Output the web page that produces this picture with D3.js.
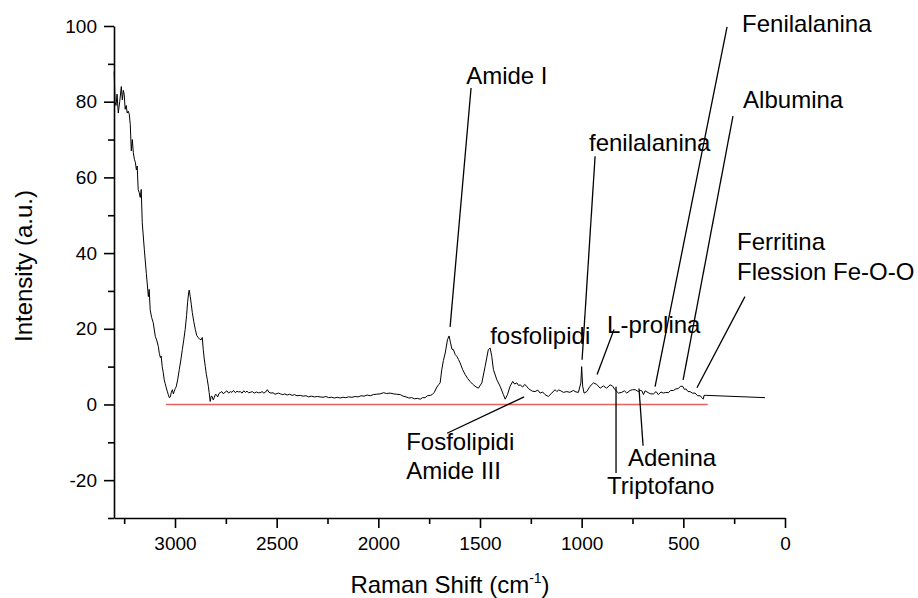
<!DOCTYPE html>
<html>
<head>
<meta charset="utf-8">
<script src="https://cdn.jsdelivr.net/npm/d3@7"></script>
<style>
  html, body { margin: 0; padding: 0; background: #fff; }
  svg { display: block; font-family: "Liberation Sans", Arial, sans-serif; }
</style>
</head>
<body>
<div id="chart"></div>
<script>
// Raman spectrum, values (shift in cm-1, intensity in a.u.)
const ramanShift = [
  3299, 3295, 3290, 3285, 3279, 3272, 3264, 3259, 3254, 3250, 3245, 3240, 3235, 3230, 3225, 3220,
  3215, 3210, 3205, 3200, 3195, 3190, 3186, 3181, 3176, 3171, 3166, 3161, 3151, 3141, 3131, 3127,
  3122, 3115, 3107, 3097, 3090, 3082, 3077, 3072, 3068, 3063, 3058, 3053, 3048, 3043, 3038, 3033,
  3028, 3023, 3018, 3013, 3008, 3004, 2999, 2994, 2987, 2979, 2972, 2964, 2957, 2950, 2943, 2938,
  2933, 2930, 2925, 2920, 2915, 2908, 2900, 2893, 2886, 2878, 2871, 2866, 2861, 2856, 2851, 2846,
  2841, 2836, 2832, 2827, 2822, 2817, 2812, 2807, 2802, 2797, 2790, 2784, 2778, 2770, 2762, 2753,
  2745, 2736, 2728, 2720, 2712, 2703, 2695, 2687, 2679, 2670, 2662, 2654, 2646, 2638, 2630, 2620,
  2610, 2600, 2590, 2581, 2572, 2563, 2554, 2546, 2538, 2528, 2518, 2508, 2498, 2490, 2482, 2470,
  2460, 2448, 2436, 2424, 2412, 2400, 2384, 2370, 2356, 2342, 2330, 2314, 2300, 2286, 2272, 2258,
  2244, 2230, 2216, 2202, 2188, 2174, 2160, 2146, 2130, 2114, 2100, 2085, 2070, 2055, 2040, 2025,
  2010, 1991, 1975, 1960, 1942, 1925, 1910, 1892, 1878, 1864, 1850, 1836, 1822, 1808, 1794, 1782,
  1770, 1758, 1745, 1735, 1725, 1712, 1704, 1696, 1688, 1680, 1671, 1660, 1652, 1645, 1638, 1631,
  1622, 1614, 1606, 1598, 1586, 1573, 1561, 1549, 1537, 1524, 1508, 1491, 1475, 1459, 1450, 1442,
  1434, 1417, 1401, 1385, 1376, 1365, 1352, 1339, 1330, 1319, 1310, 1303, 1290, 1280, 1270, 1262,
  1254, 1242, 1229, 1216, 1204, 1192, 1180, 1164, 1147, 1131, 1122, 1114, 1106, 1090, 1073, 1058,
  1041, 1028, 1016, 1004, 1000, 995, 988, 975, 959, 942, 926, 909, 893, 877, 860, 847,
  836, 819, 803, 790, 778, 762, 750, 737, 721, 712, 704, 696, 688, 672, 660, 647,
  634, 623, 610, 598, 586, 574, 562, 549, 537, 525, 514, 503, 495, 487, 477, 467,
  455, 442, 430, 418, 408, 402, 398, 385, 98
];
const intensity = [
  88.0, 80.0, 79.0, 82.0, 77.0, 80.0, 84.0, 80.5, 83.0, 82.0, 78.0, 79.0, 77.0, 77.5, 76.7, 74.0,
  67.0, 70.0, 66.6, 64.8, 64.0, 62.0, 63.0, 56.8, 56.0, 54.7, 56.8, 48.0, 41.0, 34.6, 28.5, 30.4,
  25.0, 23.0, 21.6, 18.0, 17.0, 15.3, 13.5, 12.4, 12.8, 10.0, 8.5, 6.5, 5.5, 4.4, 3.5, 2.6,
  1.8, 2.0, 3.2, 3.9, 2.8, 3.4, 4.2, 4.7, 6.5, 9.2, 11.5, 14.5, 17.0, 19.8, 23.5, 27.0,
  29.5, 30.2, 28.5, 26.5, 24.3, 22.0, 19.8, 18.2, 17.7, 17.2, 17.1, 17.7, 14.5, 12.0, 10.0, 8.0,
  6.5, 4.8, 3.1, 0.8, 2.2, 2.1, 1.2, 1.8, 2.6, 2.6, 2.0, 2.9, 3.1, 3.4, 2.8, 3.3,
  3.6, 3.0, 3.4, 3.2, 3.7, 3.1, 3.5, 3.3, 3.4, 3.0, 3.6, 3.2, 3.5, 3.1, 3.2, 3.4,
  3.0, 3.3, 3.1, 3.1, 3.4, 3.0, 3.3, 3.9, 3.2, 3.0, 3.1, 2.7, 2.9, 3.0, 2.8, 2.6,
  2.8, 2.5, 2.7, 2.4, 2.6, 2.3, 2.4, 2.2, 2.3, 2.0, 2.2, 2.0, 2.1, 2.0, 1.9, 2.1,
  1.8, 1.9, 1.7, 1.9, 1.7, 1.9, 1.8, 2.0, 1.9, 2.1, 2.0, 2.3, 2.2, 2.5, 2.3, 2.6,
  2.7, 2.8, 3.1, 2.9, 3.0, 2.8, 2.7, 2.6, 2.2, 2.0, 1.7, 1.8, 1.5, 1.6, 1.4, 1.8,
  1.8, 2.3, 2.4, 2.6, 3.2, 4.6, 5.2, 5.7, 9.2, 11.6, 13.6, 17.1, 18.1, 16.3, 14.6, 14.5,
  13.2, 12.7, 11.9, 11.0, 9.3, 7.9, 6.9, 6.1, 5.4, 4.8, 4.3, 5.7, 10.0, 14.5, 14.9, 12.7,
  9.2, 6.5, 4.8, 2.6, 1.4, 2.6, 4.8, 6.1, 5.4, 5.7, 5.0, 5.2, 4.6, 5.3, 4.8, 4.2,
  3.9, 3.5, 3.4, 3.8, 3.0, 3.3, 2.6, 2.1, 3.0, 3.9, 3.4, 3.8, 3.7, 3.2, 3.4, 3.2,
  3.7, 3.3, 3.2, 5.7, 10.0, 4.8, 3.0, 3.4, 4.8, 5.7, 5.3, 4.3, 4.9, 4.3, 5.2, 4.8,
  3.9, 3.0, 3.2, 3.6, 3.0, 3.7, 3.9, 3.9, 3.4, 3.7, 3.6, 2.6, 3.6, 3.1, 2.8, 2.8,
  3.4, 2.6, 3.3, 3.0, 3.2, 3.1, 3.7, 3.7, 4.1, 4.2, 4.8, 4.8, 4.0, 4.1, 3.4, 3.4,
  3.0, 3.0, 2.3, 2.3, 1.8, 1.4, 2.4, 2.4, 1.8
];

// red reference baseline
const baselineFrom = 3045;
const baselineTo = 380;

// peak annotations: label lines, text anchor, leader line start/end (data units)
const annLabels = [
  ["Amide I"], ["fenilalanina"], ["Fenilalanina"], ["Albumina"],
  ["Ferritina", "Flession Fe-O-O"], ["fosfolipidi"], ["L-prolina"],
  ["Fosfolipidi", "Amide III"], ["Adenina"], ["Triptofano"]
];
const annTextAt = [
  [1568, 84.6], [964, 66.9], [211, 98.4], [206, 78.3], [236, 40.7],
  [1450, 16.0], [875, 19.0], [1863, -12.0], [772, -16.2], [875, -23.6]
];
const annLineFrom = [
  [1544, 83.6], [934, 65.6], [285, 99.8], [256, 76.2], [197, 28.5],
  null, [841, 19.8], [1662, -7.6], [698, -10.9], [831, -18.1]
];
const annLineTo = [
  [1647, 20.5], [998, 11.8], [639, 4.7], [501, 6.5], [433, 4.4],
  null, [924, 7.9], [1283, 2.0], [718, 4.2], [831, 4.7]
];

const xMajor = [3000, 2500, 2000, 1500, 1000, 500, 0];
const xMinor = [3250, 2750, 2250, 1750, 1250, 750, 250];
const yMajor = [-20, 0, 20, 40, 60, 80, 100];
const yMinor = [-30, -10, 10, 30, 50, 70, 90];

const W = 918, H = 598;
const plot = { left: 114, right: 785, top: 26, bottom: 518 };

const svg = d3.select('#chart').append('svg')
  .attr('width', W)
  .attr('height', H);

const x = d3.scaleLinear().domain([3300, 0]).range([plot.left, plot.right]);
const y = d3.scaleLinear().domain([-30, 100]).range([plot.bottom, plot.top]);

// plain hyphen for negatives, like the original
const fmt = d => String(d);

// axes
svg.append('g')
  .attr('transform', `translate(0,${plot.bottom})`)
  .call(d3.axisBottom(x).tickValues(xMajor).tickSize(10).tickSizeOuter(0).tickPadding(9)
    .tickFormat(fmt));
svg.append('g')
  .attr('transform', `translate(0,${plot.bottom})`)
  .call(d3.axisBottom(x).tickValues(xMinor).tickSize(6).tickSizeOuter(0).tickFormat(''))
  .select('.domain').remove();

svg.append('g')
  .attr('transform', `translate(${plot.left},0)`)
  .call(d3.axisLeft(y).tickValues(yMajor).tickSize(10).tickSizeOuter(0).tickPadding(7)
    .tickFormat(fmt));
svg.append('g')
  .attr('transform', `translate(${plot.left},0)`)
  .call(d3.axisLeft(y).tickValues(yMinor).tickSize(6).tickSizeOuter(0).tickFormat(''))
  .select('.domain').remove();

svg.selectAll('.domain, .tick line')
  .attr('stroke', '#000')
  .attr('stroke-width', 1.6);
svg.selectAll('.tick text')
  .attr('fill', '#000')
  .style('font-size', '19px')
  .style('font-family', '"Liberation Sans", Arial, sans-serif');

// axis titles
const xTitle = svg.append('text')
  .attr('x', 450)
  .attr('y', 593)
  .attr('text-anchor', 'middle')
  .style('font-size', '24px');
xTitle.append('tspan').text('Raman Shift (cm');
xTitle.append('tspan').text('-1').attr('dy', -10).style('font-size', '14px');
xTitle.append('tspan').text(')').attr('dy', 10);

svg.append('text')
  .attr('transform', 'translate(32,266) rotate(-90)')
  .attr('text-anchor', 'middle')
  .style('font-size', '24px')
  .text('Intensity (a.u.)');

// red baseline
svg.append('line')
  .attr('x1', x(baselineFrom)).attr('x2', x(baselineTo))
  .attr('y1', y(0)).attr('y2', y(0))
  .attr('stroke', '#e8625f')
  .attr('stroke-width', 1.4);

// spectrum
const spectrum = ramanShift.map((s, i) => [s, intensity[i]]);
svg.append('path')
  .datum(spectrum)
  .attr('fill', 'none')
  .attr('stroke', '#000')
  .attr('stroke-width', 1)
  .attr('stroke-linejoin', 'round')
  .attr('d', d3.line().x(d => x(d[0])).y(d => y(d[1])));

// annotations
annLabels.forEach((lines, i) => {
  const t = svg.append('text')
    .attr('x', x(annTextAt[i][0]))
    .attr('y', y(annTextAt[i][1]))
    .style('font-size', '24px');
  lines.forEach((ln, k) => {
    t.append('tspan')
      .attr('x', x(annTextAt[i][0]))
      .attr('dy', k === 0 ? 0 : 29.5)
      .text(ln);
  });
  if (annLineFrom[i]) {
    svg.append('line')
      .attr('x1', x(annLineFrom[i][0])).attr('y1', y(annLineFrom[i][1]))
      .attr('x2', x(annLineTo[i][0])).attr('y2', y(annLineTo[i][1]))
      .attr('stroke', '#000')
      .attr('stroke-width', 1.3);
  }
});
</script>
</body>
</html>
